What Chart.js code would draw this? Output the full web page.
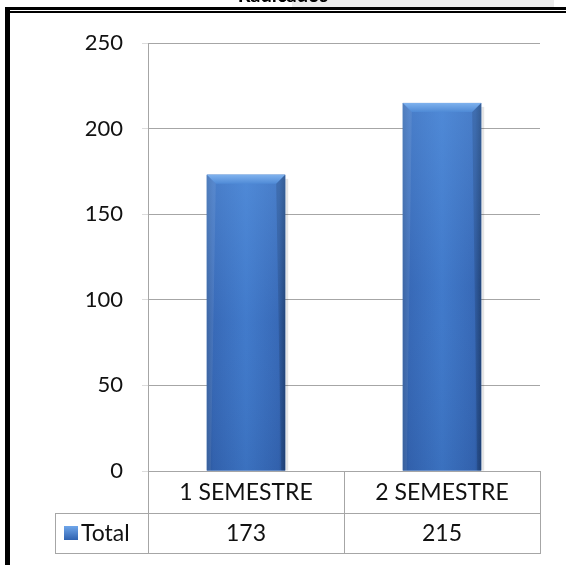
<!DOCTYPE html>
<html>
<head>
<meta charset="utf-8">
<script src="https://cdn.jsdelivr.net/npm/chart.js@4/dist/chart.umd.min.js"></script>
<style>
  html, body { margin: 0; padding: 0; background: #ffffff; }
  #wrap { width: 566px; height: 565px; position: relative; }
</style>
</head>
<body>
<div id="wrap"><canvas id="c" width="566" height="565"></canvas></div>
<script>
// Radicados por semestre
const chartTitle = 'Radicados';
const categories = ['1 SEMESTRE', '2 SEMESTRE'];
const seriesName = 'Total';
const totals = [173, 215];
const yTicks = [0, 50, 100, 150, 200, 250];

const FONT = 'Lato, "Open Sans", sans-serif';
const GRID = '#a6a6a6';
const TEXT = '#111111';

// Outer frame, partial title strip
const framePlugin = {
  id: 'frame',
  beforeDraw(chart) {
    const ctx = chart.ctx;
    ctx.save();
    ctx.fillStyle = '#ebebeb';
    ctx.fillRect(292, 0, 262, 8);
    ctx.fillStyle = '#000';
    ctx.font = 'bold 20px ' + FONT;
    ctx.textAlign = 'center';
    ctx.textBaseline = 'middle';
    ctx.fillText(chartTitle, 283, -4);
    ctx.fillStyle = '#000';
    ctx.fillRect(5, 7, 561, 3);
    ctx.fillRect(5, 11, 561, 2);
    ctx.fillRect(5, 7, 5, 558);
    ctx.restore();
  }
};

// Shaded, bevelled bars painted over each bar element
const bevelPlugin = {
  id: 'bevel',
  afterDatasetsDraw(chart) {
    const ctx = chart.ctx;
    chart.getDatasetMeta(0).data.forEach(el => {
      const { x, y, width, base } = el.getProps(['x', 'y', 'width', 'base'], true);
      const l = x - width / 2, r = x + width / 2, t = y, b = base;
      ctx.save();
      // soft shadow on the right
      ctx.fillStyle = 'rgba(0,0,0,0.10)';
      ctx.fillRect(r, t + 4, 3, b - t - 4);
      // body
      const g = ctx.createLinearGradient(l, 0, r, 0);
      g.addColorStop(0, '#2a5699');
      g.addColorStop(0.08, '#3566b4');
      g.addColorStop(0.5, '#3f78c9');
      g.addColorStop(0.92, '#3566b4');
      g.addColorStop(1, '#244a86');
      ctx.fillStyle = g;
      ctx.fillRect(l, t, width, b - t);
      const v = ctx.createLinearGradient(0, t, 0, b);
      v.addColorStop(0, 'rgba(110,170,240,0.35)');
      v.addColorStop(0.5, 'rgba(110,170,240,0.05)');
      v.addColorStop(1, 'rgba(20,50,100,0.10)');
      ctx.fillStyle = v;
      ctx.fillRect(l, t, width, b - t);
      // top bevel
      const bv = 9;
      const tg = ctx.createLinearGradient(0, t, 0, t + bv);
      tg.addColorStop(0, '#7fb2ee');
      tg.addColorStop(1, '#4f8ad6');
      ctx.fillStyle = tg;
      ctx.beginPath();
      ctx.moveTo(l, t);
      ctx.lineTo(r, t);
      ctx.lineTo(r - bv, t + bv);
      ctx.lineTo(l + bv, t + bv);
      ctx.closePath();
      ctx.fill();
      // side bevels
      ctx.fillStyle = 'rgba(255,255,255,0.08)';
      ctx.beginPath();
      ctx.moveTo(l, t); ctx.lineTo(l + bv, t + bv); ctx.lineTo(l + 4, b); ctx.lineTo(l, b); ctx.closePath();
      ctx.fill();
      ctx.fillStyle = 'rgba(0,0,0,0.12)';
      ctx.beginPath();
      ctx.moveTo(r, t); ctx.lineTo(r - bv, t + bv); ctx.lineTo(r - 4, b); ctx.lineTo(r, b); ctx.closePath();
      ctx.fill();
      ctx.restore();
    });
  }
};

// Data table below the category axis
const tablePlugin = {
  id: 'dataTable',
  afterDraw(chart) {
    const ctx = chart.ctx;
    const xs = chart.scales.x;
    const area = chart.chartArea;
    const left = area.left, right = area.right, top = area.bottom;
    const rowH1 = 42, rowH2 = 40;
    const labelLeft = 55;
    const edges = [left];
    categories.forEach((c, i) => {
      const next = i < categories.length - 1
        ? (xs.getPixelForValue(i) + xs.getPixelForValue(i + 1)) / 2
        : right;
      edges.push(next);
    });
    ctx.save();
    ctx.strokeStyle = GRID;
    ctx.lineWidth = 1;
    const y1 = top + rowH1, y2 = y1 + rowH2;
    ctx.beginPath();
    ctx.moveTo(left, Math.round(top) + 0.5); ctx.lineTo(right, Math.round(top) + 0.5);
    ctx.moveTo(labelLeft, Math.round(y1) + 0.5); ctx.lineTo(right, Math.round(y1) + 0.5);
    ctx.moveTo(labelLeft, Math.round(y2) + 0.5); ctx.lineTo(right, Math.round(y2) + 0.5);
    ctx.moveTo(labelLeft + 0.5, Math.round(y1)); ctx.lineTo(labelLeft + 0.5, Math.round(y2) + 1);
    edges.forEach(e => {
      ctx.moveTo(Math.round(e) + 0.5, Math.round(top)); ctx.lineTo(Math.round(e) + 0.5, Math.round(y2) + 1);
    });
    ctx.stroke();

    ctx.fillStyle = TEXT;
    ctx.font = '23px ' + FONT;
    ctx.textAlign = 'center';
    ctx.textBaseline = 'middle';
    categories.forEach((c, i) => {
      const cx = xs.getPixelForValue(i);
      ctx.fillText(c, cx, top + rowH1 / 2 + 1);
      ctx.fillText(String(totals[i]), cx, y1 + rowH2 / 2 + 1);
    });
    // legend key
    const kx = labelLeft + 9, ky = y1 + rowH2 / 2 - 7;
    const kg = ctx.createLinearGradient(0, ky, 0, ky + 14);
    kg.addColorStop(0, '#6fa6ea');
    kg.addColorStop(1, '#2f62b0');
    ctx.fillStyle = kg;
    ctx.fillRect(kx, ky, 14, 14);
    ctx.fillStyle = TEXT;
    ctx.textAlign = 'left';
    ctx.fillText(seriesName, kx + 17, y1 + rowH2 / 2 + 1);
    ctx.restore();
  }
};

new Chart(document.getElementById('c'), {
  type: 'bar',
  data: {
    labels: categories,
    datasets: [{
      label: seriesName,
      data: totals,
      backgroundColor: '#3a70c0',
      borderWidth: 0,
      barPercentage: 0.8,
      categoryPercentage: 0.5
    }]
  },
  options: {
    responsive: false,
    animation: false,
    events: [],
    layout: { padding: { top: 43, left: 10, right: 26, bottom: 94 } },
    plugins: {
      legend: { display: false },
      tooltip: { enabled: false },
      title: { display: false }
    },
    scales: {
      x: {
        display: false
      },
      y: {
        min: 0,
        max: 250,
        afterFit(s) { s.width = 138; },
        afterBuildTicks(s) { s.ticks = yTicks.map(v => ({ value: v })); },
        grid: { color: GRID, lineWidth: 1, drawTicks: true, tickLength: 6, tickColor: '#dcdcdc' },
        border: { display: true, color: GRID, width: 1 },
        ticks: {
          padding: 19,
          color: TEXT,
          font: { family: FONT, size: 22 }
        }
      }
    }
  },
  plugins: [framePlugin, bevelPlugin, tablePlugin]
});
</script>
</body>
</html>
